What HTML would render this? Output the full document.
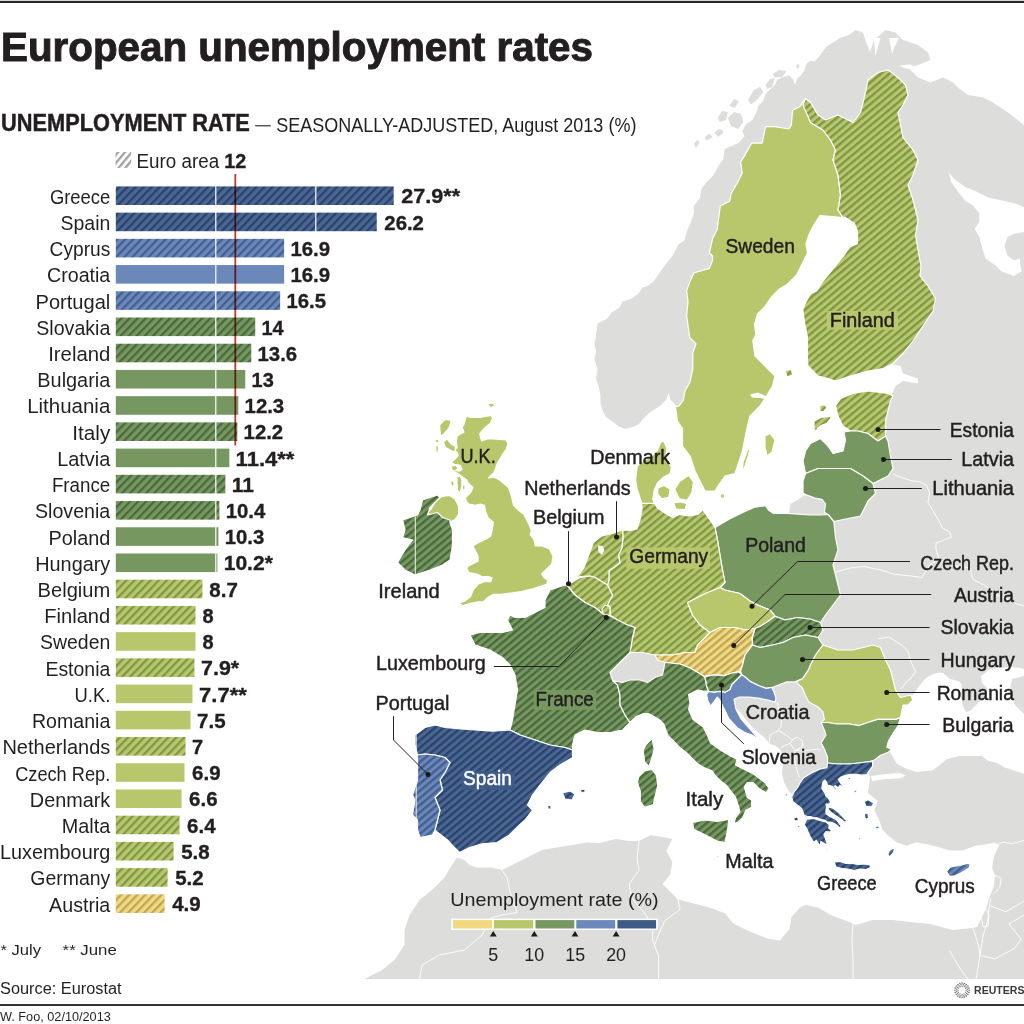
<!DOCTYPE html>
<html><head><meta charset="utf-8"><title>European unemployment rates</title>
<style>
html,body{margin:0;padding:0;background:#fff;}
svg{display:block;}
text{font-family:"Liberation Sans", Arial, sans-serif;}
</style></head>
<body>
<svg width="1024" height="1024" viewBox="0 0 1024 1024">
<defs><pattern id="bh_y" patternUnits="userSpaceOnUse" width="5.8" height="5.8" patternTransform="rotate(-46)"><rect width="5.8" height="5.8" fill="#f2d87e"/><rect width="5.8" height="2.3" fill="#bfa65a"/></pattern><pattern id="mh_y" patternUnits="userSpaceOnUse" width="5.5" height="5.5" patternTransform="rotate(-40)"><rect width="5.5" height="5.5" fill="#f2d87e"/><rect width="5.5" height="2.4" fill="#bfa65a"/></pattern><pattern id="bh_lg" patternUnits="userSpaceOnUse" width="5.8" height="5.8" patternTransform="rotate(-46)"><rect width="5.8" height="5.8" fill="#b8c76c"/><rect width="5.8" height="2.3" fill="#7f9747"/></pattern><pattern id="mh_lg" patternUnits="userSpaceOnUse" width="5.5" height="5.5" patternTransform="rotate(-40)"><rect width="5.5" height="5.5" fill="#b8c76c"/><rect width="5.5" height="2.4" fill="#7f9747"/></pattern><pattern id="bh_g" patternUnits="userSpaceOnUse" width="5.8" height="5.8" patternTransform="rotate(-46)"><rect width="5.8" height="5.8" fill="#769760"/><rect width="5.8" height="2.3" fill="#4a6a3e"/></pattern><pattern id="mh_g" patternUnits="userSpaceOnUse" width="5.5" height="5.5" patternTransform="rotate(-40)"><rect width="5.5" height="5.5" fill="#769760"/><rect width="5.5" height="2.4" fill="#4a6a3e"/></pattern><pattern id="bh_lb" patternUnits="userSpaceOnUse" width="5.8" height="5.8" patternTransform="rotate(-46)"><rect width="5.8" height="5.8" fill="#6c88ba"/><rect width="5.8" height="2.3" fill="#435f8f"/></pattern><pattern id="mh_lb" patternUnits="userSpaceOnUse" width="5.5" height="5.5" patternTransform="rotate(-40)"><rect width="5.5" height="5.5" fill="#6c88ba"/><rect width="5.5" height="2.4" fill="#435f8f"/></pattern><pattern id="bh_db" patternUnits="userSpaceOnUse" width="5.8" height="5.8" patternTransform="rotate(-46)"><rect width="5.8" height="5.8" fill="#4a6794"/><rect width="5.8" height="2.3" fill="#2b436b"/></pattern><pattern id="mh_db" patternUnits="userSpaceOnUse" width="5.5" height="5.5" patternTransform="rotate(-40)"><rect width="5.5" height="5.5" fill="#4a6794"/><rect width="5.5" height="2.4" fill="#2b436b"/></pattern><pattern id="bh_sw" patternUnits="userSpaceOnUse" width="5.2" height="5.2" patternTransform="rotate(-50)"><rect width="5.2" height="5.2" fill="#ffffff"/><rect width="5.2" height="2.3" fill="#a2a2a2"/></pattern></defs>
<rect width="1024" height="1024" fill="#ffffff"/>
<rect x="0" y="0" width="1024" height="1" fill="#d8d8d8"/>
<rect x="0" y="1" width="1024" height="2" fill="#262626"/>
<g id="map">
<polygon points="600.5,403.0 600.6,396.9 599.0,387.5 596.0,378.0 597.5,368.8 594.4,359.4 596.0,351.6 594.4,343.8 596.0,336.0 597.5,323.4 606.9,318.8 611.6,312.5 619.4,307.8 622.5,301.6 631.9,298.4 638.0,293.8 642.8,287.5 647.5,286.0 653.8,281.2 654.7,280.0 662.5,268.4 668.8,260.6 673.4,254.4 678.0,245.0 684.4,240.3 687.5,229.4 690.6,223.0 693.8,213.8 693.8,206.0 700.0,198.0 701.6,188.8 706.2,182.5 712.5,176.2 715.6,171.6 718.8,165.3 723.4,159.0 724.6,149.0 730.5,146.6 738.7,143.1 744.5,136.1 742.2,131.4 745.7,124.4 752.7,119.7 756.2,112.7 758.6,105.6 763.3,101.0 765.6,93.9 770.3,89.2 775.0,84.5 777.3,79.8 782.0,77.5 789.0,75.2 792.6,78.7 795.0,84.5 797.3,78.7 800.8,75.2 804.3,70.5 806.6,63.4 810.0,61.0 814.8,61.0 818.4,57.6 820.0,55.2 826.0,47.0 832.0,43.0 840.0,38.0 848.0,35.5 855.5,30.0 863.0,32.5 866.0,42.0 870.0,52.0 874.0,40.0 885.5,30.0 895.5,32.5 903.0,40.0 918.0,45.0 928.0,52.5 930.5,60.0 918.0,65.0 908.0,67.5 918.0,77.5 930.5,82.5 943.0,77.5 953.0,82.5 958.0,87.5 968.0,95.0 983.0,97.5 993.0,102.5 1008.0,112.5 1024.0,125.0 1024.0,979.0 364.5,979.0 382.0,970.0 394.5,960.0 404.5,945.0 404.5,930.0 409.5,915.0 419.5,900.0 432.0,890.0 444.5,877.5 452.0,865.0 457.0,857.5 464.5,860.0 469.5,865.0 477.0,867.5 492.0,867.5 502.0,870.0 512.0,865.0 527.0,857.5 542.0,850.0 557.0,847.5 572.0,845.0 587.0,842.5 600.0,843.0 615.6,839.0 629.3,841.0 639.0,841.0 650.8,835.0 662.5,837.0 672.3,839.0 666.4,850.8 672.3,862.5 670.3,874.2 662.5,884.0 670.3,891.8 678.0,899.6 693.8,903.5 709.4,907.4 725.0,913.3 732.8,923.0 748.4,930.9 768.0,938.7 779.7,940.6 789.5,929.0 791.4,917.2 800.0,907.4 805.5,905.0 818.0,907.5 830.5,915.0 850.5,922.5 855.5,925.0 873.0,920.0 893.0,920.0 910.0,922.0 930.0,924.0 942.0,927.0 952.7,930.0 967.9,928.5 977.0,927.0 981.5,917.9 986.0,908.8 989.0,898.2 993.6,887.6 995.2,875.5 992.1,867.9 993.6,857.3 998.0,847.5 999.4,845.8 994.6,842.6 986.6,844.2 975.4,845.8 962.6,850.6 949.7,850.6 940.0,847.4 927.3,844.2 916.0,842.6 906.5,845.8 896.9,842.6 888.8,836.2 882.4,829.7 879.2,820.1 874.4,810.5 877.6,800.9 868.0,792.9 869.6,781.7 870.0,777.0 868.0,772.5 870.5,765.0 860.0,768.0 840.0,771.0 815.0,777.0 800.0,788.0 794.0,796.0 789.0,791.3 784.3,783.1 782.0,773.8 783.1,762.0 780.8,750.3 776.0,746.0 770.0,744.0 765.0,738.0 752.0,727.0 740.0,712.0 728.0,700.0 714.0,694.0 706.0,689.0 700.0,684.0 690.0,682.0 672.0,680.0 662.0,683.0 645.0,687.0 628.0,690.0 618.0,692.0 608.0,672.0 606.0,640.0 600.0,620.0 590.0,598.0 592.0,580.0 600.0,560.0 615.0,545.0 630.0,537.0 645.0,520.0 646.0,505.0 645.0,490.0 650.0,470.0 660.0,450.0 688.0,436.0 684.0,412.0 680.0,406.4 678.1,408.3 674.2,403.4 670.3,399.5 668.4,392.7 666.4,399.5 660.5,405.4 654.7,409.3 648.8,413.2 643.0,419.0 639.0,424.0 633.2,426.9 625.4,428.8 619.5,426.9 611.7,421.0 605.9,417.1 602.0,409.3" fill="#dddddb" />
<polygon points="658.0,452.0 660.0,440.0 690.0,430.0 695.0,460.0 700.0,480.0 716.0,487.0 730.0,470.0 738.0,446.0 742.0,425.0 756.0,405.0 766.0,385.0 768.0,375.0 752.0,358.0 748.0,335.0 750.0,318.0 760.0,305.0 772.0,292.0 787.0,280.0 800.0,262.0 803.0,245.0 806.0,228.0 815.0,214.0 845.0,214.0 860.0,222.0 862.0,245.0 850.0,255.0 835.0,272.0 822.0,288.0 810.0,300.0 806.0,320.0 810.0,345.0 814.0,368.0 830.0,376.0 850.0,372.0 870.0,369.0 893.0,364.5 900.5,366.0 903.0,373.5 918.0,378.5 918.0,383.5 903.0,381.0 895.5,386.0 892.0,394.0 880.0,398.0 860.0,400.0 848.0,405.0 852.0,420.0 850.0,432.0 846.0,445.0 842.0,458.0 825.0,455.0 812.0,455.0 808.0,475.0 807.0,492.0 805.0,495.0 798.6,499.3 790.5,504.0 789.2,511.0 789.0,513.4 775.0,514.0 760.0,512.0 745.0,517.0 730.0,526.0 715.0,531.0 700.0,522.0 685.0,517.0 670.0,520.0 655.0,514.0 651.0,497.0 652.0,470.0" fill="#ffffff" />
<polygon points="900.0,705.0 905.0,698.0 913.0,695.0 919.0,686.0 926.0,678.0 933.0,674.0 940.0,672.5 943.0,673.0 950.0,679.0 958.0,681.0 962.0,684.0 961.0,698.0 963.0,706.0 966.0,712.0 970.0,711.0 978.0,703.0 985.0,697.0 987.0,688.0 982.0,683.0 981.0,676.0 990.0,669.0 1000.0,668.0 1010.0,667.0 1020.0,668.0 1024.0,669.0 1024.0,676.0 1012.0,679.0 1010.0,690.0 1015.0,705.0 1024.0,714.0 1024.0,773.7 1013.8,770.4 1004.2,767.2 996.2,762.4 988.2,760.8 981.8,756.0 959.4,756.0 946.5,759.2 937.0,767.2 932.0,770.4 916.0,772.0 906.5,768.8 896.9,764.0 890.4,752.8 885.0,745.0 887.0,735.0 893.0,725.0 897.0,715.0" fill="#ffffff" />
<polygon points="871.0,776.0 886.0,774.0 900.0,773.0 906.0,775.5 900.0,778.5 886.0,779.0 872.0,781.0" fill="#ffffff" />
<polygon points="948.9,172.8 956.0,180.6 965.3,186.9 976.2,191.6 988.8,197.8 1004.4,201.0 1016.9,204.0 1024.0,207.2 1024.0,232.0 1013.8,233.8 1007.5,236.9 1004.4,246.2 1007.5,255.6 1013.8,260.3 1020.0,258.8 1020.0,263.4 1021.6,271.2 1013.8,276.0 1001.2,271.2 995.0,265.0 985.6,258.8 982.5,249.4 979.4,236.9 974.7,229.0 979.4,221.2 979.4,213.4 973.1,205.6 965.3,201.0 959.0,193.0 951.2,182.2" fill="#ffffff" />
<polygon points="873.5,38.0 880.5,38.0 877.0,50.0 875.5,56.0" fill="#ffffff" />
<polygon points="889.0,38.0 899.0,38.0 894.0,48.0 892.0,54.0" fill="#ffffff" />
<polygon points="899.5,65.5 910.0,64.5 921.0,68.8 912.0,69.5 904.0,68.0" fill="#ffffff" />
<polygon points="717.6,118.0 722.0,111.0 728.0,112.0 726.0,120.0 720.0,122.0" fill="#dddddb" />
<polygon points="728.0,118.0 734.0,112.0 741.0,114.0 743.4,122.0 738.0,129.0 731.0,126.0" fill="#dddddb" />
<polygon points="714.0,133.0 719.0,129.0 723.4,131.0 718.0,136.0" fill="#dddddb" />
<polygon points="704.7,138.0 708.0,134.0 710.5,136.0 706.0,140.8" fill="#dddddb" />
<polygon points="729.3,106.0 734.0,99.0 738.7,101.0 735.0,108.0" fill="#dddddb" />
<polygon points="748.0,100.0 754.0,90.0 760.0,87.0 763.3,92.0 757.0,100.0 751.0,104.5" fill="#dddddb" />
<polygon points="765.6,85.0 770.0,79.0 775.0,78.0 772.0,87.0 767.0,89.0" fill="#dddddb" />
<polygon points="772.7,74.0 779.0,70.0 786.7,71.0 782.0,77.0 775.0,77.5" fill="#dddddb" />
<polygon points="796.0,66.0 798.0,63.4 799.6,67.0 797.0,69.3" fill="#dddddb" />
<polygon points="693.8,144.0 697.0,140.0 700.0,142.0 696.0,148.0" fill="#dddddb" />
<polygon points="706.0,137.0 710.0,134.0 712.5,137.0 708.0,140.0" fill="#dddddb" />
<polygon points="715.6,133.0 720.0,129.4 723.4,133.0 718.0,137.0" fill="#dddddb" />
<polyline points="893.0,474.0 901.5,477.5 911.0,480.6 920.0,482.0 926.5,485.3 929.6,493.0 928.0,502.5 932.8,510.3 939.0,521.2 942.0,527.5 950.0,532.2 951.5,537.0 943.7,540.0 936.0,543.0 936.0,549.4 939.0,558.8" fill="none" stroke="#ffffff" stroke-width="0.9" stroke-linejoin="round" />
<polyline points="836.0,572.0 850.0,568.0 864.0,566.5 879.6,569.7 895.0,574.4 911.0,576.0 921.8,577.5 925.0,572.8 929.6,565.0 939.0,558.8" fill="none" stroke="#ffffff" stroke-width="0.9" stroke-linejoin="round" />
<polyline points="939.0,558.8 946.0,563.0 955.0,566.0 962.0,566.5 970.0,568.0 972.8,579.4 980.0,583.0 986.9,586.4 992.5,593.4 1000.0,596.0 1006.6,599.0 1015.0,603.3 1024.0,606.0" fill="none" stroke="#ffffff" stroke-width="0.9" stroke-linejoin="round" />
<polyline points="878.0,638.8 889.0,637.0 901.5,645.0 907.8,651.0 911.0,662.0 915.6,671.5 911.0,678.0 906.0,682.5 901.5,688.8" fill="none" stroke="#ffffff" stroke-width="0.9" stroke-linejoin="round" />
<polyline points="777.3,702.3 779.0,710.0 782.0,718.7 780.8,726.9 778.4,730.4" fill="none" stroke="#ffffff" stroke-width="0.9" stroke-linejoin="round" />
<polyline points="778.4,730.4 774.0,733.0 770.2,735.0 769.0,743.3" fill="none" stroke="#ffffff" stroke-width="0.9" stroke-linejoin="round" />
<polyline points="778.4,730.4 785.5,735.0 792.5,739.8" fill="none" stroke="#ffffff" stroke-width="0.9" stroke-linejoin="round" />
<polyline points="780.8,748.0 784.3,745.6 790.2,743.3 792.5,739.8" fill="none" stroke="#ffffff" stroke-width="0.9" stroke-linejoin="round" />
<polyline points="792.5,739.8 797.0,737.0 802.0,740.0 803.0,746.0 796.0,750.3" fill="none" stroke="#ffffff" stroke-width="0.9" stroke-linejoin="round" />
<polyline points="790.2,743.3 794.8,750.3 796.0,750.3 807.7,750.3 817.1,749.1 821.0,750.0" fill="none" stroke="#ffffff" stroke-width="0.9" stroke-linejoin="round" />
<polyline points="794.8,750.3 794.8,755.0 794.8,762.0 797.2,771.4 799.5,777.3" fill="none" stroke="#ffffff" stroke-width="0.9" stroke-linejoin="round" />
<polyline points="502.0,870.0 507.0,877.5 509.5,890.0 514.5,905.0 517.0,912.5 502.0,915.0 492.0,917.5 482.0,935.0 464.5,950.0 439.5,955.0 422.0,965.0 419.5,979.0" fill="none" stroke="#ffffff" stroke-width="0.9" stroke-linejoin="round" />
<polyline points="639.0,841.0 637.0,858.6 639.0,870.3 629.3,884.0 631.2,897.7 643.0,911.3 652.7,925.0 652.7,940.6 658.6,956.2 658.6,979.0" fill="none" stroke="#ffffff" stroke-width="0.9" stroke-linejoin="round" />
<polyline points="678.0,899.6 680.0,909.4 664.5,921.0 658.6,934.8 654.7,944.5" fill="none" stroke="#ffffff" stroke-width="0.9" stroke-linejoin="round" />
<polyline points="853.0,924.0 852.0,940.0 853.0,960.0 853.0,979.0" fill="none" stroke="#ffffff" stroke-width="0.9" stroke-linejoin="round" />
<polyline points="996.7,845.2 1002.7,842.0 1011.8,843.6 1024.0,840.6" fill="none" stroke="#ffffff" stroke-width="0.9" stroke-linejoin="round" />
<polyline points="995.2,875.5 1001.2,878.5 999.7,887.6 993.6,893.6" fill="none" stroke="#ffffff" stroke-width="0.9" stroke-linejoin="round" />
<polyline points="990.6,898.2 989.0,908.8 987.6,921.0 983.0,936.0 980.0,955.8 977.0,974.0 976.0,979.0" fill="none" stroke="#ffffff" stroke-width="0.9" stroke-linejoin="round" />
<polyline points="972.4,927.0 975.5,936.0 978.5,945.0 980.0,955.8" fill="none" stroke="#ffffff" stroke-width="0.9" stroke-linejoin="round" />
<polyline points="981.5,910.0 986.0,909.0 989.0,915.0 988.0,926.0 983.0,927.0 981.5,918.0" fill="none" stroke="#ffffff" stroke-width="0.9" stroke-linejoin="round" />
<polyline points="990.6,905.8 1005.8,911.8 1024.0,901.2" fill="none" stroke="#ffffff" stroke-width="0.9" stroke-linejoin="round" />
<polyline points="1024.0,915.0 1008.8,924.0 1021.0,939.0 1014.8,948.2 995.2,958.8 981.5,955.8" fill="none" stroke="#ffffff" stroke-width="0.9" stroke-linejoin="round" />
<polyline points="949.7,951.0 955.0,960.0 961.0,970.0 967.9,979.0" fill="none" stroke="#ffffff" stroke-width="0.9" stroke-linejoin="round" />
<polygon points="805.0,99.0 810.5,122.5 823.0,130.0 830.5,140.0 835.5,150.0 833.0,160.0 838.0,175.0 840.5,195.0 838.0,210.0 843.0,217.5 832.0,216.5 820.0,215.6 813.8,225.0 809.0,234.4 806.0,243.8 807.5,253.0 802.8,262.5 796.6,275.0 787.2,284.4 779.4,289.0 771.6,296.9 765.3,306.2 757.5,314.0 754.4,325.0 756.0,334.4 752.8,340.6 755.0,356.0 765.0,366.0 775.0,376.0 772.5,386.0 765.0,398.5 760.0,406.0 750.0,416.0 747.5,426.0 744.5,440.0 742.5,451.0 737.5,466.0 735.0,473.5 725.0,476.0 718.0,486.0 715.0,491.0 705.0,491.0 700.0,481.0 695.0,471.0 690.0,456.0 682.5,446.0 682.5,428.5 677.5,421.0 675.5,406.5 678.8,406.2 683.4,400.0 685.0,390.6 689.7,382.8 692.8,368.8 692.8,353.0 696.0,343.8 689.7,337.5 686.6,315.6 688.0,301.6 686.6,290.6 690.6,280.0 693.8,273.0 709.4,268.4 712.5,260.6 712.5,256.0 709.4,252.8 712.5,238.8 717.2,229.4 718.8,216.9 720.3,206.0 729.7,201.2 731.2,193.4 737.5,182.5 742.2,173.0 740.6,162.2 745.3,154.4 751.6,143.1 762.1,143.1 765.6,126.7 775.0,126.7 789.0,129.0 791.4,124.4 792.6,110.3 799.6,106.8" fill="#b8c76c" stroke="#ffffff" stroke-width="1.2" stroke-linejoin="round"/>
<polygon points="765.0,436.0 770.0,433.5 775.0,440.0 772.0,452.0 767.0,456.0 765.0,447.0" fill="#b8c76c" stroke="#ffffff" stroke-width="1.2" stroke-linejoin="round"/>
<polygon points="748.0,449.0 750.0,450.0 745.0,466.0 742.5,472.0 743.0,462.0" fill="#b8c76c" stroke="#ffffff" stroke-width="1.2" stroke-linejoin="round"/>
<polygon points="805.5,98.8 810.5,102.5 818.0,115.0 825.5,120.0 838.0,115.0 848.0,120.0 853.0,122.5 860.5,112.5 865.5,92.5 868.0,80.0 878.0,72.5 888.0,70.0 898.0,77.5 905.5,85.0 908.0,95.0 903.0,105.0 898.0,112.5 900.5,125.0 903.0,137.5 913.0,150.0 918.0,160.0 913.0,175.0 908.0,185.0 913.0,200.0 918.0,220.0 915.5,235.0 918.0,250.0 921.0,266.0 920.0,276.0 928.0,286.0 935.5,298.5 933.0,311.0 923.0,326.0 913.0,341.0 903.0,353.5 893.0,363.5 883.0,368.5 868.0,371.0 850.5,376.0 835.5,381.0 828.0,378.5 818.0,376.0 808.0,366.0 807.5,360.0 807.5,337.5 804.4,321.9 802.8,309.4 806.0,301.6 810.6,293.8 816.9,290.6 823.0,281.2 829.4,273.4 835.6,265.6 843.4,256.2 849.7,246.9 857.5,243.8 857.5,231.2 854.4,223.4 845.0,217.2 843.0,217.5 838.0,210.0 840.5,195.0 838.0,175.0 833.0,160.0 835.5,150.0 830.5,140.0 823.0,130.0 810.5,122.5 803.0,105.0" fill="url(#mh_lg)" stroke="#ffffff" stroke-width="1.2" stroke-linejoin="round"/>
<polygon points="785.0,371.0 791.0,369.0 793.0,375.0 787.0,377.0" fill="url(#mh_lg)" stroke="#ffffff" stroke-width="1.2" stroke-linejoin="round"/>
<polygon points="893.0,396.0 888.0,393.5 868.0,391.0 853.0,393.5 840.5,398.5 835.5,406.0 838.0,416.0 843.0,426.0 850.5,431.0 858.0,431.0 868.0,433.5 878.0,441.0 885.5,436.0 885.5,421.0 888.0,411.0 890.5,401.0" fill="url(#mh_lg)" stroke="#ffffff" stroke-width="1.2" stroke-linejoin="round"/>
<polygon points="814.0,421.0 821.1,417.4 829.3,416.3 831.6,415.1 830.5,418.6 827.0,423.3 821.1,425.6 817.6,428.0 816.4,431.5 814.0,429.2" fill="url(#mh_lg)" stroke="#ffffff" stroke-width="1.2" stroke-linejoin="round"/>
<polygon points="819.9,405.7 824.6,404.5 827.0,408.0 823.4,411.6 819.9,411.6" fill="url(#mh_lg)" stroke="#ffffff" stroke-width="1.2" stroke-linejoin="round"/>
<polygon points="805.5,473.5 803.0,461.0 805.5,451.0 810.5,443.5 820.5,438.5 828.0,446.0 833.0,453.5 843.0,451.0 845.5,440.0 844.0,432.0 850.5,431.0 858.0,431.0 868.0,433.5 878.0,441.0 885.5,436.0 888.0,441.0 890.5,456.0 893.0,468.5 888.0,476.0 873.0,483.5 863.0,476.0 850.5,468.5 830.5,468.5 818.0,468.5" fill="#769760" stroke="#ffffff" stroke-width="1.2" stroke-linejoin="round"/>
<polygon points="805.5,473.5 818.0,468.5 830.5,468.5 850.5,468.5 863.0,476.0 873.0,483.5 875.5,493.5 868.0,501.0 863.0,511.0 860.5,516.0 848.0,518.5 833.8,521.5 828.0,514.5 824.4,512.2 825.5,504.0 822.0,499.3 815.0,498.1 805.6,494.6 803.0,493.0 803.0,481.0" fill="#769760" stroke="#ffffff" stroke-width="1.2" stroke-linejoin="round"/>
<polygon points="715.0,527.5 731.2,518.1 743.8,511.9 754.7,507.2 765.6,505.6 768.8,510.3 773.4,513.4 781.2,513.4 787.5,513.4 809.4,515.0 820.0,515.0 828.0,514.5 833.8,521.5 835.5,537.5 838.0,550.0 833.0,565.0 835.5,575.0 840.5,595.0 833.0,605.0 825.5,615.0 820.5,622.5 810.0,619.0 797.5,617.5 785.0,620.0 775.0,616.2 770.0,610.0 757.5,605.0 750.0,601.0 740.0,593.5 725.0,590.0 720.0,587.5 725.0,582.5 722.5,570.0 720.0,555.0 717.5,540.0" fill="#769760" stroke="#ffffff" stroke-width="1.2" stroke-linejoin="round"/>
<polygon points="622.5,530.0 630.0,530.5 637.0,529.0 640.0,520.0 642.0,510.0 641.9,503.4 654.4,503.4 657.5,508.0 667.0,514.4 673.0,517.5 679.4,514.4 688.8,516.0 698.0,514.4 702.8,509.7 706.0,514.4 710.6,520.6 715.0,527.5 717.5,540.0 720.0,555.0 722.5,570.0 725.0,582.5 720.0,587.5 707.5,592.5 687.5,602.5 692.5,615.0 700.0,625.0 710.0,632.5 702.5,640.0 697.5,645.0 695.0,652.5 685.0,652.5 672.5,655.0 660.0,655.0 655.0,655.0 642.5,652.5 630.0,652.5 632.5,637.5 635.0,627.5 627.5,625.0 617.5,620.0 610.0,615.0 610.0,607.0 607.5,605.0 612.5,595.0 607.5,585.0 609.0,580.0 609.0,570.6 613.8,567.5 620.0,562.8 618.4,555.0 621.6,548.8 623.0,537.8" fill="url(#mh_lg)" stroke="#ffffff" stroke-width="1.2" stroke-linejoin="round"/>
<polygon points="663.8,441.0 667.0,448.8 665.3,458.0 671.5,467.5 670.0,473.8 663.8,477.0 657.5,483.0 654.4,489.4 652.8,498.8 654.4,503.4 641.9,503.4 640.3,498.8 637.2,489.4 635.6,480.0 637.2,466.0 643.4,461.0 651.2,456.6 657.5,450.3 660.6,442.5" fill="#b8c76c" stroke="#ffffff" stroke-width="1.2" stroke-linejoin="round"/>
<polygon points="658.0,488.0 664.0,485.5 670.0,489.0 669.0,497.0 662.0,498.8 657.5,494.0" fill="#b8c76c" stroke="#ffffff" stroke-width="1.2" stroke-linejoin="round"/>
<polygon points="679.4,481.6 688.8,475.3 693.4,481.6 691.9,492.5 687.2,500.3 679.4,498.8 674.7,489.4" fill="#b8c76c" stroke="#ffffff" stroke-width="1.2" stroke-linejoin="round"/>
<polygon points="673.5,503.0 680.0,502.0 687.0,503.5 685.0,509.5 676.0,509.0" fill="#b8c76c" stroke="#ffffff" stroke-width="1.2" stroke-linejoin="round"/>
<polygon points="720.5,494.0 724.5,494.0 724.5,498.0 720.5,498.0" fill="#b8c76c" stroke="#ffffff" stroke-width="1.2" stroke-linejoin="round"/>
<polygon points="574.7,580.0 579.4,573.8 584.0,567.5 588.8,555.0 593.4,542.5 601.2,536.2 613.8,533.0 622.5,530.0 623.0,537.8 621.6,548.8 618.4,555.0 620.0,562.8 613.8,567.5 609.0,570.6 609.0,580.0 607.5,585.0 595.0,577.5 590.0,576.0 580.0,576.5" fill="url(#mh_lg)" stroke="#ffffff" stroke-width="1.2" stroke-linejoin="round"/>
<polygon points="567.5,585.0 580.0,577.5 590.0,576.0 595.0,577.5 607.5,585.0 612.5,595.0 607.5,605.0 603.0,614.0 595.0,607.5 585.0,602.5 575.0,595.0" fill="url(#mh_lg)" stroke="#ffffff" stroke-width="1.2" stroke-linejoin="round"/>
<polygon points="605.0,605.0 610.0,607.0 610.0,615.0 607.5,618.0 603.0,614.0 602.0,609.0" fill="url(#mh_lg)" stroke="#ffffff" stroke-width="1.2" stroke-linejoin="round"/>
<polygon points="565.0,585.0 557.5,587.5 550.0,590.0 545.0,600.0 545.0,607.5 535.0,612.5 525.0,617.5 515.0,617.5 510.0,615.0 507.5,620.0 512.5,630.0 502.5,632.5 490.0,632.5 480.0,632.5 470.0,635.0 475.0,645.0 490.0,650.0 502.5,657.5 510.0,665.0 515.0,675.0 517.5,690.0 515.0,705.0 512.5,720.0 510.0,730.0 520.0,735.0 535.0,740.0 550.0,745.0 565.0,747.5 572.5,750.0 572.5,745.0 575.0,735.0 585.0,730.0 597.5,732.5 610.0,732.5 622.5,730.0 630.0,722.5 625.0,715.0 620.0,705.0 620.0,695.0 617.5,685.0 612.5,680.0 610.0,672.5 617.5,665.0 625.0,657.5 630.0,652.5 632.5,637.5 635.0,627.5 627.5,625.0 617.5,620.0 610.0,616.0 603.0,614.0 595.0,607.5 585.0,602.5 575.0,595.0 567.5,586.0" fill="url(#mh_g)" stroke="#ffffff" stroke-width="1.2" stroke-linejoin="round"/>
<polygon points="652.0,738.6 654.2,748.8 652.0,757.6 649.0,766.4 644.6,762.0 643.2,750.3 646.1,744.5" fill="url(#mh_g)" stroke="#ffffff" stroke-width="1.2" stroke-linejoin="round"/>
<polygon points="687.5,602.5 707.5,592.5 720.0,587.5 725.0,590.0 740.0,593.5 750.0,601.0 757.5,605.0 770.0,610.0 775.0,616.2 768.0,621.5 760.0,626.5 755.0,628.5 745.0,630.0 735.0,627.5 720.0,627.5 710.0,632.5 700.0,625.0 692.5,615.0" fill="#b8c76c" stroke="#ffffff" stroke-width="1.2" stroke-linejoin="round"/>
<polygon points="755.0,628.5 760.0,626.5 768.0,621.5 775.0,616.2 785.0,620.0 797.5,617.5 810.0,619.0 820.5,622.5 823.0,630.0 818.0,637.5 805.5,635.0 793.0,637.5 783.0,642.5 772.5,645.0 760.0,647.5 752.5,645.0 752.0,638.0" fill="url(#mh_g)" stroke="#ffffff" stroke-width="1.2" stroke-linejoin="round"/>
<polygon points="710.0,632.5 720.0,627.5 735.0,627.5 745.0,630.0 755.0,628.5 752.0,638.0 752.5,645.0 745.0,655.0 742.5,665.0 740.5,671.0 738.8,671.8 733.0,672.8 724.2,675.7 714.4,674.8 704.6,676.7 697.0,672.0 690.0,668.0 680.0,664.0 665.0,662.5 657.5,660.0 655.0,655.0 660.0,655.0 672.5,655.0 685.0,652.5 695.0,652.5 697.5,645.0 702.5,640.0" fill="url(#mh_y)" stroke="#ffffff" stroke-width="1.2" stroke-linejoin="round"/>
<polygon points="745.0,655.0 752.5,645.0 760.0,647.5 772.5,645.0 783.0,642.5 793.0,637.5 805.5,635.0 818.0,637.5 823.0,645.0 815.5,655.0 810.5,665.0 808.8,669.4 802.5,678.8 794.7,681.9 786.9,681.9 772.0,687.5 766.2,688.4 758.4,685.5 750.5,681.6 744.7,676.7 741.8,674.8 740.5,671.0 742.5,665.0" fill="#769760" stroke="#ffffff" stroke-width="1.2" stroke-linejoin="round"/>
<polygon points="704.6,676.7 714.4,674.8 724.2,675.7 733.0,672.8 738.8,671.8 741.8,674.8 736.9,679.6 732.0,684.5 730.0,689.4 725.2,692.3 719.3,691.4 714.4,692.3 708.6,691.4 706.6,686.5 705.6,680.6" fill="url(#mh_g)" stroke="#ffffff" stroke-width="1.2" stroke-linejoin="round"/>
<polygon points="708.6,691.4 714.4,692.3 719.3,691.4 725.2,692.3 730.0,689.4 732.0,684.5 736.9,679.6 741.8,674.8 744.7,676.7 750.5,681.6 758.4,685.5 766.2,688.4 772.0,687.5 774.0,692.3 776.0,698.2 775.0,702.1 768.1,700.2 758.4,698.2 748.6,697.2 738.8,697.2 734.0,699.2 735.9,709.0 740.8,718.7 748.6,727.5 757.4,737.3 760.0,740.5 758.4,739.2 752.5,735.3 744.7,732.4 736.9,727.5 729.0,718.7 724.2,709.0 719.3,699.2 717.3,697.2 714.4,701.1 710.5,706.0 707.6,700.2 706.6,694.3" fill="#6c88ba" stroke="#ffffff" stroke-width="1.2" stroke-linejoin="round"/>
<polygon points="823.0,645.0 838.0,650.0 853.0,650.0 863.0,647.5 873.0,645.0 880.5,647.5 885.5,660.0 890.5,670.0 893.0,680.0 895.5,690.0 900.5,697.5 910.5,695.0 913.0,700.0 908.0,705.0 903.0,705.0 900.5,717.5 896.2,719.4 886.9,719.4 877.5,719.4 868.0,722.5 858.8,725.6 849.4,724.0 836.9,724.0 827.5,722.5 821.2,722.5 824.4,719.4 822.8,711.6 818.0,707.0 808.8,702.0 805.6,696.0 802.5,688.0 796.0,681.9 802.5,678.8 808.8,669.4 810.5,665.0 815.5,655.0" fill="#b8c76c" stroke="#ffffff" stroke-width="1.2" stroke-linejoin="round"/>
<polygon points="821.2,722.5 827.5,722.5 836.9,724.0 849.4,724.0 858.8,725.6 868.0,722.5 877.5,719.4 886.9,719.4 896.2,719.4 900.5,717.5 898.0,726.0 893.0,733.4 888.4,741.2 886.9,747.5 891.6,749.0 888.4,752.2 880.6,755.3 874.4,760.0 869.7,761.6 858.8,763.0 849.4,764.0 836.9,764.0 827.5,763.0 827.5,756.9 824.4,749.0 821.2,742.8 826.0,735.0 824.4,730.3" fill="#769760" stroke="#ffffff" stroke-width="1.2" stroke-linejoin="round"/>
<polygon points="869.0,761.7 872.6,761.7 872.6,766.4 869.0,771.1 866.7,774.6 862.0,775.2 856.2,774.4 850.3,774.3 845.6,775.4 841.0,777.0 838.3,779.5 841.0,783.7 843.7,785.7 842.4,786.4 839.6,785.7 838.3,787.8 836.9,787.1 835.5,785.7 834.2,786.4 837.6,789.8 835.5,789.8 832.1,786.4 830.0,785.7 827.3,785.0 826.5,782.0 825.0,780.0 823.2,781.5 822.5,783.7 821.9,788.5 824.6,792.6 826.0,796.0 828.7,798.7 830.8,802.1 828.7,804.2 826.0,804.2 826.7,806.9 826.0,809.6 826.0,813.7 830.0,816.5 835.5,819.2 838.3,822.0 841.0,826.0 840.3,828.1 837.6,826.0 834.2,823.3 830.0,822.0 827.3,822.0 825.3,820.6 820.5,819.2 817.1,817.8 813.7,817.8 810.3,816.5 806.8,816.5 804.1,815.1 802.7,811.0 801.4,808.3 798.8,806.2 792.9,801.6 791.7,796.9 794.0,792.2 797.6,787.5 800.0,782.8 803.4,778.1 807.0,775.8 810.5,773.4 815.2,771.1 821.0,768.8 826.9,767.6 827.5,763.0 836.9,764.0 849.4,764.0 858.8,763.0 866.7,762.0" fill="url(#mh_db)" stroke="#ffffff" stroke-width="1.2" stroke-linejoin="round"/>
<polygon points="806.8,819.2 813.7,818.5 820.5,820.6 826.0,822.0 829.4,824.7 828.7,828.1 832.1,830.8 829.4,832.2 826.0,831.5 823.9,834.3 826.0,840.0 827.5,844.5 824.5,843.8 821.0,841.4 819.8,846.1 816.3,840.2 814.0,842.6 811.6,839.0 809.6,835.6 806.8,828.8 804.1,824.7" fill="url(#mh_db)" stroke="#ffffff" stroke-width="1.2" stroke-linejoin="round"/>
<polygon points="834.0,862.0 840.0,861.5 846.0,863.5 852.0,863.5 858.0,864.5 864.0,864.0 870.0,865.0 870.5,867.5 866.0,869.5 860.0,869.0 854.0,870.5 848.0,869.0 842.0,868.5 836.0,867.0" fill="url(#mh_db)" stroke="#ffffff" stroke-width="1.2" stroke-linejoin="round"/>
<polygon points="829.4,806.9 832.8,808.3 836.9,811.0 839.6,813.7 843.7,817.8 846.5,820.6 845.1,822.6 841.0,819.2 836.9,816.5 832.8,813.7 829.4,811.0 827.5,809.0" fill="url(#mh_db)" stroke="#ffffff" stroke-width="1.2" stroke-linejoin="round"/>
<polygon points="864.0,801.5 868.0,799.8 873.8,803.0 871.5,806.8 866.0,806.3" fill="url(#mh_db)" stroke="#ffffff" stroke-width="1.2" stroke-linejoin="round"/>
<polygon points="864.8,813.5 868.0,812.8 868.4,818.0 865.5,819.5 864.3,816.0" fill="url(#mh_db)" stroke="#ffffff" stroke-width="1.2" stroke-linejoin="round"/>
<polygon points="875.5,826.5 879.4,825.8 879.0,828.5 875.8,828.8" fill="url(#mh_db)" stroke="#ffffff" stroke-width="1.2" stroke-linejoin="round"/>
<polygon points="889.5,850.5 894.8,847.3 893.5,852.5 889.5,857.0 887.8,854.0" fill="url(#mh_db)" stroke="#ffffff" stroke-width="1.2" stroke-linejoin="round"/>
<polygon points="784.7,794.5 786.5,793.4 788.2,795.7 785.5,796.0" fill="url(#mh_db)" stroke="#ffffff" stroke-width="1.2" stroke-linejoin="round"/>
<polygon points="793.0,818.5 797.0,816.8 798.8,819.5 795.5,821.5" fill="url(#mh_db)" stroke="#ffffff" stroke-width="1.2" stroke-linejoin="round"/>
<polygon points="797.6,826.0 799.5,825.0 800.0,827.3 798.0,827.5" fill="url(#mh_db)" stroke="#ffffff" stroke-width="1.2" stroke-linejoin="round"/>
<polygon points="848.0,778.0 850.3,777.0 850.3,779.3 848.2,779.5" fill="url(#mh_db)" stroke="#ffffff" stroke-width="1.2" stroke-linejoin="round"/>
<polygon points="853.8,790.5 857.3,789.8 856.5,792.2 854.0,792.0" fill="url(#mh_db)" stroke="#ffffff" stroke-width="1.2" stroke-linejoin="round"/>
<polygon points="858.5,837.5 860.9,836.7 860.5,839.0 858.8,839.2" fill="url(#mh_db)" stroke="#ffffff" stroke-width="1.2" stroke-linejoin="round"/>
<polygon points="826.0,849.0 827.8,848.8 827.5,850.8 826.2,850.6" fill="url(#mh_db)" stroke="#ffffff" stroke-width="1.2" stroke-linejoin="round"/>
<polygon points="946.5,871.5 950.0,867.2 956.0,866.0 962.0,865.0 966.0,863.6 970.5,863.5 969.0,868.0 965.0,870.5 960.0,873.5 955.0,875.8 949.5,876.3" fill="url(#mh_lb)" stroke="#ffffff" stroke-width="1.2" stroke-linejoin="round"/>
<polygon points="630.0,722.5 625.0,715.0 620.0,705.0 620.0,695.0 617.5,685.0 613.0,681.0 622.5,682.5 630.0,680.0 640.0,680.0 647.5,682.5 655.0,677.5 662.5,675.0 665.0,662.5 680.0,664.0 690.0,668.0 697.0,672.0 704.6,676.7 705.6,680.6 706.6,686.5 708.6,691.4 703.0,691.0 697.5,690.0 688.6,694.6 690.0,703.4 688.6,709.3 693.0,719.5 703.2,726.9 707.6,735.7 710.6,743.0 720.8,750.3 731.0,756.2 737.0,759.1 735.5,765.0 744.3,769.4 753.0,773.8 758.9,778.1 764.8,782.5 769.2,788.4 766.2,792.8 758.9,788.4 753.0,782.5 747.2,782.5 744.3,786.9 747.2,797.2 751.6,800.1 751.6,807.4 745.7,810.4 742.8,817.7 738.4,822.1 734.0,823.5 735.5,817.7 739.9,811.8 738.4,806.0 735.5,797.2 731.0,791.3 726.7,785.5 720.8,781.1 715.0,775.2 712.0,770.8 704.7,767.9 697.4,763.5 693.0,759.1 687.1,753.2 679.8,747.4 674.0,741.5 668.1,735.7 663.7,723.9 659.3,719.5 649.0,713.7 643.2,713.7 635.9,716.6" fill="url(#mh_g)" stroke="#ffffff" stroke-width="1.2" stroke-linejoin="round"/>
<polygon points="692.5,822.5 705.0,820.0 717.2,821.5 728.9,819.5 727.5,830.0 725.0,842.5 717.2,841.0 705.5,835.0 693.8,829.3" fill="url(#mh_g)" stroke="#ffffff" stroke-width="1.2" stroke-linejoin="round"/>
<polygon points="638.8,776.7 644.6,770.8 652.0,769.4 656.4,775.2 657.8,785.5 654.9,797.2 653.4,804.5 644.6,807.4 640.3,801.6 640.3,791.3 637.3,782.5" fill="url(#mh_g)" stroke="#ffffff" stroke-width="1.2" stroke-linejoin="round"/>
<polygon points="716.3,855.8 718.2,855.8 718.2,857.5 716.3,857.5" fill="url(#mh_lg)" stroke="#ffffff" stroke-width="1.2" stroke-linejoin="round"/>
<polygon points="466.0,416.5 471.9,417.5 479.7,417.5 485.5,416.5 491.4,415.5 492.4,418.4 490.4,423.3 485.5,427.2 481.6,431.1 479.7,434.0 480.7,438.0 481.6,440.9 487.5,439.0 493.4,439.0 499.2,439.4 506.0,440.0 508.0,443.8 506.0,449.7 503.1,453.6 500.2,458.5 497.3,463.4 495.3,469.2 493.4,473.1 490.4,476.0 488.5,478.0 493.4,477.0 499.7,480.0 508.6,487.6 511.1,495.2 513.6,505.4 518.7,510.5 523.8,514.3 526.4,519.4 528.9,524.4 531.4,530.8 530.2,534.6 534.0,539.7 535.2,546.0 541.6,546.0 549.2,548.6 553.0,556.2 551.8,563.8 545.4,570.2 541.6,574.0 544.1,577.8 548.0,580.3 546.7,584.1 539.0,586.7 531.4,589.2 521.3,591.7 511.1,593.0 501.0,594.3 493.3,594.3 487.0,598.1 483.2,601.9 478.1,601.9 471.8,603.2 462.9,605.7 459.0,603.2 465.4,600.6 470.5,596.8 473.0,590.5 478.1,584.1 484.4,581.6 490.8,581.6 492.1,577.8 488.2,576.5 481.9,576.5 476.8,574.0 469.2,572.7 466.7,568.9 467.9,566.3 473.0,563.8 478.1,561.3 478.1,556.2 475.6,551.1 473.0,546.0 476.8,543.5 481.9,541.0 487.0,538.4 490.8,535.9 492.1,530.8 493.3,521.9 488.2,518.1 485.7,511.7 484.4,505.4 480.6,504.1 475.6,505.4 469.2,504.1 466.7,501.6 465.4,497.8 470.5,492.7 473.0,487.6 467.9,482.5 466.7,480.0 461.1,476.0 457.2,473.1 451.4,471.2 454.3,470.2 459.2,471.2 462.1,469.2 460.2,465.3 454.3,464.3 451.4,462.4 454.3,459.5 458.2,455.5 457.2,452.6 454.3,449.7 457.2,447.7 456.2,441.9 457.2,436.0 464.0,432.1 462.1,427.2 464.0,424.3" fill="#b8c76c" stroke="#ffffff" stroke-width="1.2" stroke-linejoin="round"/>
<polygon points="439.6,425.0 445.0,419.4 451.4,420.5 449.0,428.0 444.0,434.0 440.5,436.0" fill="#b8c76c" stroke="#ffffff" stroke-width="1.2" stroke-linejoin="round"/>
<polygon points="443.5,442.0 447.0,439.0 451.0,444.0 455.5,446.5 455.0,452.0 450.0,450.0 445.0,447.0" fill="#b8c76c" stroke="#ffffff" stroke-width="1.2" stroke-linejoin="round"/>
<polygon points="487.5,404.0 492.0,402.8 495.3,405.5 490.5,407.7" fill="#b8c76c" stroke="#ffffff" stroke-width="1.2" stroke-linejoin="round"/>
<polygon points="434.8,440.0 438.0,439.0 439.6,442.0 436.0,442.5" fill="#b8c76c" stroke="#ffffff" stroke-width="1.2" stroke-linejoin="round"/>
<polygon points="435.7,446.0 438.7,446.0 438.0,452.6 436.0,452.0" fill="#b8c76c" stroke="#ffffff" stroke-width="1.2" stroke-linejoin="round"/>
<polygon points="451.4,466.0 456.0,465.3 458.2,468.0 455.0,471.2 452.0,470.0" fill="#b8c76c" stroke="#ffffff" stroke-width="1.2" stroke-linejoin="round"/>
<polygon points="450.4,482.0 453.0,480.0 454.3,484.0 452.0,487.8" fill="#b8c76c" stroke="#ffffff" stroke-width="1.2" stroke-linejoin="round"/>
<polygon points="457.0,477.0 460.0,476.0 462.0,480.0 461.5,488.0 459.5,493.6 457.5,490.0 457.0,483.0" fill="#b8c76c" stroke="#ffffff" stroke-width="1.2" stroke-linejoin="round"/>
<polygon points="462.5,485.0 465.0,485.5 465.0,490.0 462.5,489.5" fill="#b8c76c" stroke="#ffffff" stroke-width="1.2" stroke-linejoin="round"/>
<polygon points="427.1,513.1 431.0,509.0 436.4,500.0 442.0,496.4 449.4,495.4 455.0,499.1 458.7,506.6 458.7,514.0 455.0,519.6 449.4,522.4 447.6,520.5 443.9,518.6 440.1,517.7 437.4,515.9 434.6,515.9 430.9,514.9" fill="#b8c76c" stroke="#ffffff" stroke-width="1.2" stroke-linejoin="round"/>
<polygon points="420.0,510.0 422.5,500.0 437.5,495.0 440.0,497.5 430.0,507.5 427.5,515.0 437.5,512.5 442.5,517.5 450.0,520.0 450.0,522.5 452.5,530.0 452.5,545.0 450.0,560.0 442.5,565.0 430.0,570.0 415.0,575.0 405.0,570.0 397.5,562.5 405.0,550.0 412.5,540.0 402.5,537.5 405.0,530.0 402.5,520.0 410.0,517.5 417.5,515.0" fill="url(#mh_g)" stroke="#ffffff" stroke-width="1.2" stroke-linejoin="round"/>
<polygon points="415.0,735.0 425.0,727.5 435.0,725.0 445.0,727.5 460.0,728.8 475.0,730.0 492.5,731.2 510.0,730.0 520.0,735.0 535.0,740.0 550.0,745.0 565.0,747.5 572.5,750.0 572.5,757.5 560.0,765.0 550.0,772.5 540.0,785.0 532.5,795.0 527.5,805.0 532.5,810.0 525.0,820.0 519.5,825.0 509.5,835.0 497.0,842.5 482.0,843.8 469.5,847.5 459.5,852.5 452.0,845.0 447.5,840.0 434.5,830.0 435.0,830.0 437.5,820.0 440.0,810.0 435.0,797.5 442.5,790.0 440.0,780.0 445.0,772.5 450.0,762.5 445.0,757.5 435.0,755.0 425.0,755.0 417.5,755.0 415.0,745.0" fill="url(#mh_db)" stroke="#ffffff" stroke-width="1.2" stroke-linejoin="round"/>
<polygon points="562.5,793.0 570.0,791.0 575.0,794.0 572.0,800.0 565.0,799.0" fill="url(#mh_db)" stroke="#ffffff" stroke-width="1.2" stroke-linejoin="round"/>
<polygon points="580.0,790.0 585.0,789.0 585.0,792.5 581.0,792.0" fill="url(#mh_db)" stroke="#ffffff" stroke-width="1.2" stroke-linejoin="round"/>
<polygon points="547.5,806.0 551.0,805.0 551.0,809.0 548.0,809.0" fill="url(#mh_db)" stroke="#ffffff" stroke-width="1.2" stroke-linejoin="round"/>
<polygon points="417.5,755.0 425.0,753.8 435.0,755.0 445.0,757.5 450.0,762.5 445.0,772.5 440.0,780.0 442.5,790.0 435.0,797.5 440.0,810.0 437.5,820.0 435.0,830.0 432.5,835.0 420.0,837.5 417.5,830.0 417.5,820.0 412.5,815.0 415.0,800.0 412.5,795.0 417.5,780.0 417.5,765.0" fill="url(#mh_lb)" stroke="#ffffff" stroke-width="1.2" stroke-linejoin="round"/>
<polygon points="598.0,545.5 602.5,546.0 604.5,550.0 602.0,555.0 598.5,552.0" fill="#ffffff" />
<polygon points="750.0,394.5 758.0,392.5 766.0,396.0 767.5,399.5 760.0,398.0 752.0,397.5" fill="#ffffff" />
<rect x="826.75" y="311" width="71.25" height="18.75" fill="#b8c76c"/>
<rect x="626.25" y="547.5" width="83.75" height="21.25" fill="#b8c76c"/>
<rect x="533.75" y="690" width="62.5" height="20" fill="#769760"/>
<rect x="461.25" y="771.25" width="53.75" height="18.75" fill="#3e5b87"/>
<line x1="415.3" y1="516.5" x2="415.3" y2="575.5" stroke="#fff" stroke-width="0.9"/>
<line x1="416.2" y1="735" x2="416.2" y2="838" stroke="#fff" stroke-width="0.9"/>
<polyline points="878.0,429.5 940.5,429.5" fill="none" stroke="#231f20" stroke-width="1.0" stroke-linejoin="round" />
<polyline points="883.5,459.5 951.8,459.5" fill="none" stroke="#231f20" stroke-width="1.0" stroke-linejoin="round" />
<polyline points="865.5,488.5 921.8,488.5" fill="none" stroke="#231f20" stroke-width="1.0" stroke-linejoin="round" />
<polyline points="752.0,606.2 797.5,561.5 910.0,561.5" fill="none" stroke="#231f20" stroke-width="1.0" stroke-linejoin="round" />
<polyline points="733.8,645.5 785.0,594.5 931.2,594.5" fill="none" stroke="#231f20" stroke-width="1.0" stroke-linejoin="round" />
<polyline points="810.0,627.5 929.6,627.5" fill="none" stroke="#231f20" stroke-width="1.0" stroke-linejoin="round" />
<polyline points="802.5,659.5 929.6,659.5" fill="none" stroke="#231f20" stroke-width="1.0" stroke-linejoin="round" />
<polyline points="886.7,692.5 929.6,692.5" fill="none" stroke="#231f20" stroke-width="1.0" stroke-linejoin="round" />
<polyline points="886.7,724.5 929.6,724.5" fill="none" stroke="#231f20" stroke-width="1.0" stroke-linejoin="round" />
<polyline points="568.5,531.2 568.5,583.8" fill="none" stroke="#231f20" stroke-width="1.0" stroke-linejoin="round" />
<polyline points="616.5,501.2 616.5,537.0" fill="none" stroke="#231f20" stroke-width="1.0" stroke-linejoin="round" />
<polyline points="493.8,666.5 558.8,666.5 606.2,617.5" fill="none" stroke="#231f20" stroke-width="1.0" stroke-linejoin="round" />
<polyline points="393.5,716.2 393.5,740.0 428.0,774.5" fill="none" stroke="#231f20" stroke-width="1.0" stroke-linejoin="round" />
<polyline points="721.5,685.0 721.5,722.5 743.8,743.8" fill="none" stroke="#231f20" stroke-width="1.0" stroke-linejoin="round" />
<circle cx="878" cy="429.5" r="2.5" fill="#1a1a1a"/>
<circle cx="883.5" cy="459.5" r="2.5" fill="#1a1a1a"/>
<circle cx="865.5" cy="488.5" r="2.5" fill="#1a1a1a"/>
<circle cx="752" cy="606.25" r="2.5" fill="#1a1a1a"/>
<circle cx="733.75" cy="645.5" r="2.5" fill="#1a1a1a"/>
<circle cx="810" cy="627.5" r="2.5" fill="#1a1a1a"/>
<circle cx="802.5" cy="659.5" r="2.5" fill="#1a1a1a"/>
<circle cx="886.7" cy="692.5" r="2.5" fill="#1a1a1a"/>
<circle cx="886.7" cy="724.5" r="2.5" fill="#1a1a1a"/>
<circle cx="568.5" cy="583.75" r="2.5" fill="#1a1a1a"/>
<circle cx="616.5" cy="537" r="2.5" fill="#1a1a1a"/>
<circle cx="606.25" cy="617.5" r="2.5" fill="#1a1a1a"/>
<circle cx="428" cy="774.5" r="2.5" fill="#1a1a1a"/>
<circle cx="721.5" cy="685" r="2.5" fill="#1a1a1a"/>
<rect x="451.2" y="918.6" width="206.7" height="11.3" fill="#ffffff"/>
<rect x="453.0" y="920.1" width="39.1" height="8.4" fill="#f2d87e"/>
<rect x="493.9" y="920.1" width="39.3" height="8.4" fill="#b8c76c"/>
<rect x="535.5" y="920.1" width="38.8" height="8.4" fill="#769760"/>
<rect x="576.3" y="920.1" width="38.9" height="8.4" fill="#6c88ba"/>
<rect x="617.4" y="920.1" width="38.7" height="8.4" fill="#3e5b87"/>
<polygon points="489.9,936.6 496.7,936.6 493.3,931.0" fill="#1a1a1a"/>
<polygon points="530.9,936.6 537.7,936.6 534.3,931.0" fill="#1a1a1a"/>
<polygon points="571.6,936.6 578.4,936.6 575.0,931.0" fill="#1a1a1a"/>
<polygon points="612.7,936.6 619.5,936.6 616.1,931.0" fill="#1a1a1a"/>
</g>
<g id="bars">
<rect x="115.8" y="186.40" width="277.88" height="18.6" fill="url(#bh_db)"/>
<rect x="115.8" y="212.62" width="260.95" height="18.6" fill="url(#bh_db)"/>
<rect x="115.8" y="238.84" width="168.32" height="18.6" fill="url(#bh_lb)"/>
<rect x="115.8" y="265.06" width="168.32" height="18.6" fill="#6c88ba"/>
<rect x="115.8" y="291.28" width="164.34" height="18.6" fill="url(#bh_lb)"/>
<rect x="115.8" y="317.50" width="139.44" height="18.6" fill="url(#bh_g)"/>
<rect x="115.8" y="343.72" width="135.46" height="18.6" fill="url(#bh_g)"/>
<rect x="115.8" y="369.94" width="129.48" height="18.6" fill="#769760"/>
<rect x="115.8" y="396.16" width="122.51" height="18.6" fill="#769760"/>
<rect x="115.8" y="422.38" width="121.51" height="18.6" fill="url(#bh_g)"/>
<rect x="115.8" y="448.60" width="113.54" height="18.6" fill="#769760"/>
<rect x="115.8" y="474.82" width="109.56" height="18.6" fill="url(#bh_g)"/>
<rect x="115.8" y="501.04" width="103.58" height="18.6" fill="url(#bh_g)"/>
<rect x="115.8" y="527.26" width="102.59" height="18.6" fill="#769760"/>
<rect x="115.8" y="553.48" width="101.59" height="18.6" fill="#769760"/>
<rect x="115.8" y="579.70" width="86.65" height="18.6" fill="url(#bh_lg)"/>
<rect x="115.8" y="605.92" width="79.68" height="18.6" fill="url(#bh_lg)"/>
<rect x="115.8" y="632.14" width="79.68" height="18.6" fill="#b8c76c"/>
<rect x="115.8" y="658.36" width="78.68" height="18.6" fill="url(#bh_lg)"/>
<rect x="115.8" y="684.58" width="76.69" height="18.6" fill="#b8c76c"/>
<rect x="115.8" y="710.80" width="74.70" height="18.6" fill="#b8c76c"/>
<rect x="115.8" y="737.02" width="69.72" height="18.6" fill="url(#bh_lg)"/>
<rect x="115.8" y="763.24" width="68.72" height="18.6" fill="#b8c76c"/>
<rect x="115.8" y="789.46" width="65.74" height="18.6" fill="#b8c76c"/>
<rect x="115.8" y="815.68" width="63.74" height="18.6" fill="url(#bh_lg)"/>
<rect x="115.8" y="841.90" width="57.77" height="18.6" fill="url(#bh_lg)"/>
<rect x="115.8" y="868.12" width="51.79" height="18.6" fill="url(#bh_lg)"/>
<rect x="115.8" y="894.34" width="48.80" height="18.6" fill="url(#bh_y)"/>
<line x1="215.8" y1="184" x2="215.8" y2="913.9" stroke="#ffffff" stroke-width="1.2"/>
<line x1="315.8" y1="184" x2="315.8" y2="913.9" stroke="#ffffff" stroke-width="1.2"/>
<line x1="235.3" y1="174" x2="235.3" y2="445.5" stroke="#c0392f" stroke-width="1.8" style="mix-blend-mode:multiply"/>
<rect x="115.5" y="152" width="15.7" height="16" fill="url(#bh_sw)"/>
</g>
<rect x="0" y="1004" width="1024" height="2" fill="#333333"/>
<rect x="255.2" y="125.1" width="15.6" height="1.3" fill="#444"/>
<circle cx="969.30" cy="990.30" r="0.8" fill="#707070"/><circle cx="968.95" cy="992.52" r="0.8" fill="#707070"/><circle cx="967.92" cy="994.53" r="0.8" fill="#707070"/><circle cx="966.33" cy="996.12" r="0.8" fill="#707070"/><circle cx="964.32" cy="997.15" r="0.8" fill="#707070"/><circle cx="962.10" cy="997.50" r="0.8" fill="#707070"/><circle cx="959.88" cy="997.15" r="0.8" fill="#707070"/><circle cx="957.87" cy="996.12" r="0.8" fill="#707070"/><circle cx="956.28" cy="994.53" r="0.8" fill="#707070"/><circle cx="955.25" cy="992.52" r="0.8" fill="#707070"/><circle cx="954.90" cy="990.30" r="0.8" fill="#707070"/><circle cx="955.25" cy="988.08" r="0.8" fill="#707070"/><circle cx="956.28" cy="986.07" r="0.8" fill="#707070"/><circle cx="957.87" cy="984.48" r="0.8" fill="#707070"/><circle cx="959.88" cy="983.45" r="0.8" fill="#707070"/><circle cx="962.10" cy="983.10" r="0.8" fill="#707070"/><circle cx="964.32" cy="983.45" r="0.8" fill="#707070"/><circle cx="966.33" cy="984.48" r="0.8" fill="#707070"/><circle cx="967.92" cy="986.07" r="0.8" fill="#707070"/><circle cx="968.95" cy="988.08" r="0.8" fill="#707070"/><circle cx="967.59" cy="991.39" r="0.75" fill="#707070"/><circle cx="966.76" cy="993.41" r="0.75" fill="#707070"/><circle cx="965.21" cy="994.96" r="0.75" fill="#707070"/><circle cx="963.19" cy="995.79" r="0.75" fill="#707070"/><circle cx="961.01" cy="995.79" r="0.75" fill="#707070"/><circle cx="958.99" cy="994.96" r="0.75" fill="#707070"/><circle cx="957.44" cy="993.41" r="0.75" fill="#707070"/><circle cx="956.61" cy="991.39" r="0.75" fill="#707070"/><circle cx="956.61" cy="989.21" r="0.75" fill="#707070"/><circle cx="957.44" cy="987.19" r="0.75" fill="#707070"/><circle cx="958.99" cy="985.64" r="0.75" fill="#707070"/><circle cx="961.01" cy="984.81" r="0.75" fill="#707070"/><circle cx="963.19" cy="984.81" r="0.75" fill="#707070"/><circle cx="965.21" cy="985.64" r="0.75" fill="#707070"/><circle cx="966.76" cy="987.19" r="0.75" fill="#707070"/><circle cx="967.59" cy="989.21" r="0.75" fill="#707070"/><circle cx="966.20" cy="990.30" r="0.65" fill="#707070"/><circle cx="965.65" cy="992.35" r="0.65" fill="#707070"/><circle cx="964.15" cy="993.85" r="0.65" fill="#707070"/><circle cx="962.10" cy="994.40" r="0.65" fill="#707070"/><circle cx="960.05" cy="993.85" r="0.65" fill="#707070"/><circle cx="958.55" cy="992.35" r="0.65" fill="#707070"/><circle cx="958.00" cy="990.30" r="0.65" fill="#707070"/><circle cx="958.55" cy="988.25" r="0.65" fill="#707070"/><circle cx="960.05" cy="986.75" r="0.65" fill="#707070"/><circle cx="962.10" cy="986.20" r="0.65" fill="#707070"/><circle cx="964.15" cy="986.75" r="0.65" fill="#707070"/><circle cx="965.65" cy="988.25" r="0.65" fill="#707070"/>
<g id="texts">
<text x="1.00" y="61.20" font-size="40.20" font-weight="700" text-anchor="start" fill="#231f20" textLength="592.00" lengthAdjust="spacingAndGlyphs" stroke="#231f20" stroke-width="1.0">European unemployment rates</text>
<text x="1.10" y="131.40" font-size="23.30" font-weight="700" text-anchor="start" fill="#231f20" textLength="248.80" lengthAdjust="spacingAndGlyphs" stroke="#231f20" stroke-width="0.5">UNEMPLOYMENT RATE</text>
<text x="276.20" y="131.60" font-size="20.68" font-weight="400" text-anchor="start" fill="#231f20" textLength="360.20" lengthAdjust="spacingAndGlyphs" >SEASONALLY-ADJUSTED, August 2013 (%)</text>
<text x="110.30" y="203.70" font-size="20.10" font-weight="400" text-anchor="end" fill="#231f20" textLength="60.42" lengthAdjust="spacingAndGlyphs" >Greece</text>
<text x="401.28" y="203.40" font-size="20.00" font-weight="700" text-anchor="start" fill="#231f20" textLength="58.77" lengthAdjust="spacingAndGlyphs" stroke="#231f20" stroke-width="0.35">27.9**</text>
<text x="110.30" y="229.92" font-size="20.10" font-weight="400" text-anchor="end" fill="#231f20" textLength="49.83" lengthAdjust="spacingAndGlyphs" >Spain</text>
<text x="384.35" y="229.62" font-size="20.00" font-weight="700" text-anchor="start" fill="#231f20" textLength="39.58" lengthAdjust="spacingAndGlyphs" stroke="#231f20" stroke-width="0.35">26.2</text>
<text x="110.30" y="256.14" font-size="20.10" font-weight="400" text-anchor="end" fill="#231f20" textLength="60.69" lengthAdjust="spacingAndGlyphs" >Cyprus</text>
<text x="290.42" y="255.84" font-size="20.00" font-weight="700" text-anchor="start" fill="#231f20" textLength="39.58" lengthAdjust="spacingAndGlyphs" stroke="#231f20" stroke-width="0.35">16.9</text>
<text x="110.30" y="282.36" font-size="20.10" font-weight="400" text-anchor="end" fill="#231f20" textLength="63.31" lengthAdjust="spacingAndGlyphs" >Croatia</text>
<text x="290.42" y="282.06" font-size="20.00" font-weight="700" text-anchor="start" fill="#231f20" textLength="39.58" lengthAdjust="spacingAndGlyphs" stroke="#231f20" stroke-width="0.35">16.9</text>
<text x="110.30" y="308.58" font-size="20.10" font-weight="400" text-anchor="end" fill="#231f20" textLength="74.77" lengthAdjust="spacingAndGlyphs" >Portugal</text>
<text x="286.44" y="308.28" font-size="20.00" font-weight="700" text-anchor="start" fill="#231f20" textLength="39.58" lengthAdjust="spacingAndGlyphs" stroke="#231f20" stroke-width="0.35">16.5</text>
<text x="110.30" y="334.80" font-size="20.10" font-weight="400" text-anchor="end" fill="#231f20" textLength="74.00" lengthAdjust="spacingAndGlyphs" >Slovakia</text>
<text x="261.54" y="334.50" font-size="20.00" font-weight="700" text-anchor="start" fill="#231f20" textLength="22.19" lengthAdjust="spacingAndGlyphs" stroke="#231f20" stroke-width="0.35">14</text>
<text x="110.30" y="361.02" font-size="20.10" font-weight="400" text-anchor="end" fill="#231f20" textLength="62.11" lengthAdjust="spacingAndGlyphs" >Ireland</text>
<text x="257.56" y="360.72" font-size="20.00" font-weight="700" text-anchor="start" fill="#231f20" textLength="39.58" lengthAdjust="spacingAndGlyphs" stroke="#231f20" stroke-width="0.35">13.6</text>
<text x="110.30" y="387.24" font-size="20.10" font-weight="400" text-anchor="end" fill="#231f20" textLength="73.00" lengthAdjust="spacingAndGlyphs" >Bulgaria</text>
<text x="251.58" y="386.94" font-size="20.00" font-weight="700" text-anchor="start" fill="#231f20" textLength="22.19" lengthAdjust="spacingAndGlyphs" stroke="#231f20" stroke-width="0.35">13</text>
<text x="110.30" y="413.46" font-size="20.10" font-weight="400" text-anchor="end" fill="#231f20" textLength="83.14" lengthAdjust="spacingAndGlyphs" >Lithuania</text>
<text x="244.61" y="413.16" font-size="20.00" font-weight="700" text-anchor="start" fill="#231f20" textLength="39.58" lengthAdjust="spacingAndGlyphs" stroke="#231f20" stroke-width="0.35">12.3</text>
<text x="110.30" y="439.68" font-size="20.10" font-weight="400" text-anchor="end" fill="#231f20" textLength="37.92" lengthAdjust="spacingAndGlyphs" >Italy</text>
<text x="243.61" y="439.38" font-size="20.00" font-weight="700" text-anchor="start" fill="#231f20" textLength="39.58" lengthAdjust="spacingAndGlyphs" stroke="#231f20" stroke-width="0.35">12.2</text>
<text x="110.30" y="465.90" font-size="20.10" font-weight="400" text-anchor="end" fill="#231f20" textLength="53.17" lengthAdjust="spacingAndGlyphs" >Latvia</text>
<text x="235.64" y="465.60" font-size="20.00" font-weight="700" text-anchor="start" fill="#231f20" textLength="58.77" lengthAdjust="spacingAndGlyphs" stroke="#231f20" stroke-width="0.35">11.4**</text>
<text x="110.30" y="492.12" font-size="20.10" font-weight="400" text-anchor="end" fill="#231f20" textLength="58.38" lengthAdjust="spacingAndGlyphs" >France</text>
<text x="231.66" y="491.82" font-size="20.00" font-weight="700" text-anchor="start" fill="#231f20" textLength="22.19" lengthAdjust="spacingAndGlyphs" stroke="#231f20" stroke-width="0.35">11</text>
<text x="110.30" y="518.34" font-size="20.10" font-weight="400" text-anchor="end" fill="#231f20" textLength="75.27" lengthAdjust="spacingAndGlyphs" >Slovenia</text>
<text x="225.68" y="518.04" font-size="20.00" font-weight="700" text-anchor="start" fill="#231f20" textLength="39.58" lengthAdjust="spacingAndGlyphs" stroke="#231f20" stroke-width="0.35">10.4</text>
<text x="110.30" y="544.56" font-size="20.10" font-weight="400" text-anchor="end" fill="#231f20" textLength="61.86" lengthAdjust="spacingAndGlyphs" >Poland</text>
<text x="224.69" y="544.26" font-size="20.00" font-weight="700" text-anchor="start" fill="#231f20" textLength="39.58" lengthAdjust="spacingAndGlyphs" stroke="#231f20" stroke-width="0.35">10.3</text>
<text x="110.30" y="570.78" font-size="20.10" font-weight="400" text-anchor="end" fill="#231f20" textLength="75.06" lengthAdjust="spacingAndGlyphs" >Hungary</text>
<text x="223.69" y="570.48" font-size="20.00" font-weight="700" text-anchor="start" fill="#231f20" textLength="49.17" lengthAdjust="spacingAndGlyphs" stroke="#231f20" stroke-width="0.35">10.2*</text>
<text x="110.30" y="597.00" font-size="20.10" font-weight="400" text-anchor="end" fill="#231f20" textLength="72.70" lengthAdjust="spacingAndGlyphs" >Belgium</text>
<text x="209.35" y="596.70" font-size="20.00" font-weight="700" text-anchor="start" fill="#231f20" textLength="28.48" lengthAdjust="spacingAndGlyphs" stroke="#231f20" stroke-width="0.35">8.7</text>
<text x="110.30" y="623.22" font-size="20.10" font-weight="400" text-anchor="end" fill="#231f20" textLength="66.11" lengthAdjust="spacingAndGlyphs" >Finland</text>
<text x="202.38" y="622.92" font-size="20.00" font-weight="700" text-anchor="start" fill="#231f20" textLength="11.09" lengthAdjust="spacingAndGlyphs" stroke="#231f20" stroke-width="0.35">8</text>
<text x="110.30" y="649.44" font-size="20.10" font-weight="400" text-anchor="end" fill="#231f20" textLength="70.22" lengthAdjust="spacingAndGlyphs" >Sweden</text>
<text x="202.38" y="649.14" font-size="20.00" font-weight="700" text-anchor="start" fill="#231f20" textLength="11.09" lengthAdjust="spacingAndGlyphs" stroke="#231f20" stroke-width="0.35">8</text>
<text x="110.30" y="675.66" font-size="20.10" font-weight="400" text-anchor="end" fill="#231f20" textLength="64.89" lengthAdjust="spacingAndGlyphs" >Estonia</text>
<text x="201.08" y="675.36" font-size="20.00" font-weight="700" text-anchor="start" fill="#231f20" textLength="38.08" lengthAdjust="spacingAndGlyphs" stroke="#231f20" stroke-width="0.35">7.9*</text>
<text x="110.30" y="701.88" font-size="20.10" font-weight="400" text-anchor="end" fill="#231f20" textLength="35.83" lengthAdjust="spacingAndGlyphs" >U.K.</text>
<text x="199.09" y="701.58" font-size="20.00" font-weight="700" text-anchor="start" fill="#231f20" textLength="47.67" lengthAdjust="spacingAndGlyphs" stroke="#231f20" stroke-width="0.35">7.7**</text>
<text x="110.30" y="728.10" font-size="20.10" font-weight="400" text-anchor="end" fill="#231f20" textLength="78.36" lengthAdjust="spacingAndGlyphs" >Romania</text>
<text x="197.10" y="727.80" font-size="20.00" font-weight="700" text-anchor="start" fill="#231f20" textLength="28.48" lengthAdjust="spacingAndGlyphs" stroke="#231f20" stroke-width="0.35">7.5</text>
<text x="110.30" y="754.32" font-size="20.10" font-weight="400" text-anchor="end" fill="#231f20" textLength="107.91" lengthAdjust="spacingAndGlyphs" >Netherlands</text>
<text x="192.12" y="754.02" font-size="20.00" font-weight="700" text-anchor="start" fill="#231f20" textLength="11.09" lengthAdjust="spacingAndGlyphs" stroke="#231f20" stroke-width="0.35">7</text>
<text x="110.30" y="780.54" font-size="20.10" font-weight="400" text-anchor="end" fill="#231f20" textLength="95.16" lengthAdjust="spacingAndGlyphs" >Czech Rep.</text>
<text x="192.12" y="780.24" font-size="20.00" font-weight="700" text-anchor="start" fill="#231f20" textLength="28.48" lengthAdjust="spacingAndGlyphs" stroke="#231f20" stroke-width="0.35">6.9</text>
<text x="110.30" y="806.76" font-size="20.10" font-weight="400" text-anchor="end" fill="#231f20" textLength="80.50" lengthAdjust="spacingAndGlyphs" >Denmark</text>
<text x="189.14" y="806.46" font-size="20.00" font-weight="700" text-anchor="start" fill="#231f20" textLength="28.48" lengthAdjust="spacingAndGlyphs" stroke="#231f20" stroke-width="0.35">6.6</text>
<text x="110.30" y="832.98" font-size="20.10" font-weight="400" text-anchor="end" fill="#231f20" textLength="48.45" lengthAdjust="spacingAndGlyphs" >Malta</text>
<text x="187.14" y="832.68" font-size="20.00" font-weight="700" text-anchor="start" fill="#231f20" textLength="28.48" lengthAdjust="spacingAndGlyphs" stroke="#231f20" stroke-width="0.35">6.4</text>
<text x="110.30" y="859.20" font-size="20.10" font-weight="400" text-anchor="end" fill="#231f20" textLength="110.33" lengthAdjust="spacingAndGlyphs" >Luxembourg</text>
<text x="181.17" y="858.90" font-size="20.00" font-weight="700" text-anchor="start" fill="#231f20" textLength="28.48" lengthAdjust="spacingAndGlyphs" stroke="#231f20" stroke-width="0.35">5.8</text>
<text x="110.30" y="885.42" font-size="20.10" font-weight="400" text-anchor="end" fill="#231f20" textLength="79.95" lengthAdjust="spacingAndGlyphs" >Germany</text>
<text x="175.19" y="885.12" font-size="20.00" font-weight="700" text-anchor="start" fill="#231f20" textLength="28.48" lengthAdjust="spacingAndGlyphs" stroke="#231f20" stroke-width="0.35">5.2</text>
<text x="110.30" y="911.64" font-size="20.10" font-weight="400" text-anchor="end" fill="#231f20" textLength="61.22" lengthAdjust="spacingAndGlyphs" >Austria</text>
<text x="172.20" y="911.34" font-size="20.00" font-weight="700" text-anchor="start" fill="#231f20" textLength="28.48" lengthAdjust="spacingAndGlyphs" stroke="#231f20" stroke-width="0.35">4.9</text>
<text x="136.60" y="168.40" font-size="19.74" font-weight="400" text-anchor="start" fill="#231f20" textLength="82.50" lengthAdjust="spacingAndGlyphs" >Euro area</text>
<text x="224.20" y="168.40" font-size="20.00" font-weight="700" text-anchor="start" fill="#231f20" textLength="22.00" lengthAdjust="spacingAndGlyphs" stroke="#231f20" stroke-width="0.35">12</text>
<text x="0.50" y="954.70" font-size="13.90" font-weight="400" text-anchor="start" fill="#231f20" textLength="40.60" lengthAdjust="spacingAndGlyphs" >* July</text>
<text x="62.60" y="954.70" font-size="13.90" font-weight="400" text-anchor="start" fill="#231f20" textLength="54.20" lengthAdjust="spacingAndGlyphs" >** June</text>
<text x="0.00" y="993.80" font-size="15.98" font-weight="400" text-anchor="start" fill="#231f20" textLength="121.60" lengthAdjust="spacingAndGlyphs" >Source: Eurostat</text>
<text x="0.00" y="1021.00" font-size="13.63" font-weight="400" text-anchor="start" fill="#231f20" textLength="110.80" lengthAdjust="spacingAndGlyphs" >W. Foo, 02/10/2013</text>
<text x="725.55" y="252.60" font-size="19.70" font-weight="400" text-anchor="start" fill="#231f20" textLength="69.35" lengthAdjust="spacingAndGlyphs" stroke="#231f20" stroke-width="0.45">Sweden</text>
<text x="829.80" y="327.10" font-size="19.70" font-weight="400" text-anchor="start" fill="#231f20" textLength="64.90" lengthAdjust="spacingAndGlyphs" stroke="#231f20" stroke-width="0.45">Finland</text>
<text x="949.80" y="437.30" font-size="19.70" font-weight="400" text-anchor="start" fill="#231f20" textLength="64.10" lengthAdjust="spacingAndGlyphs" stroke="#231f20" stroke-width="0.45">Estonia</text>
<text x="961.30" y="466.00" font-size="19.70" font-weight="400" text-anchor="start" fill="#231f20" textLength="52.80" lengthAdjust="spacingAndGlyphs" stroke="#231f20" stroke-width="0.45">Latvia</text>
<text x="932.30" y="494.60" font-size="19.70" font-weight="400" text-anchor="start" fill="#231f20" textLength="81.60" lengthAdjust="spacingAndGlyphs" stroke="#231f20" stroke-width="0.45">Lithuania</text>
<text x="590.20" y="463.60" font-size="19.70" font-weight="400" text-anchor="start" fill="#231f20" textLength="80.00" lengthAdjust="spacingAndGlyphs" stroke="#231f20" stroke-width="0.45">Denmark</text>
<text x="460.55" y="463.00" font-size="19.70" font-weight="400" text-anchor="start" fill="#231f20" textLength="35.15" lengthAdjust="spacingAndGlyphs" stroke="#231f20" stroke-width="0.45">U.K.</text>
<text x="524.30" y="495.00" font-size="19.70" font-weight="400" text-anchor="start" fill="#231f20" textLength="106.40" lengthAdjust="spacingAndGlyphs" stroke="#231f20" stroke-width="0.45">Netherlands</text>
<text x="533.05" y="524.00" font-size="19.70" font-weight="400" text-anchor="start" fill="#231f20" textLength="71.40" lengthAdjust="spacingAndGlyphs" stroke="#231f20" stroke-width="0.45">Belgium</text>
<text x="629.30" y="563.00" font-size="19.70" font-weight="400" text-anchor="start" fill="#231f20" textLength="78.90" lengthAdjust="spacingAndGlyphs" stroke="#231f20" stroke-width="0.45">Germany</text>
<text x="745.20" y="551.90" font-size="19.70" font-weight="400" text-anchor="start" fill="#231f20" textLength="60.70" lengthAdjust="spacingAndGlyphs" stroke="#231f20" stroke-width="0.45">Poland</text>
<text x="920.30" y="569.70" font-size="19.70" font-weight="400" text-anchor="start" fill="#231f20" textLength="93.60" lengthAdjust="spacingAndGlyphs" stroke="#231f20" stroke-width="0.45">Czech Rep.</text>
<text x="953.90" y="601.90" font-size="19.70" font-weight="400" text-anchor="start" fill="#231f20" textLength="60.00" lengthAdjust="spacingAndGlyphs" stroke="#231f20" stroke-width="0.45">Austria</text>
<text x="940.60" y="634.00" font-size="19.70" font-weight="400" text-anchor="start" fill="#231f20" textLength="73.30" lengthAdjust="spacingAndGlyphs" stroke="#231f20" stroke-width="0.45">Slovakia</text>
<text x="940.60" y="666.90" font-size="19.70" font-weight="400" text-anchor="start" fill="#231f20" textLength="74.10" lengthAdjust="spacingAndGlyphs" stroke="#231f20" stroke-width="0.45">Hungary</text>
<text x="936.70" y="699.70" font-size="19.70" font-weight="400" text-anchor="start" fill="#231f20" textLength="77.20" lengthAdjust="spacingAndGlyphs" stroke="#231f20" stroke-width="0.45">Romania</text>
<text x="942.30" y="732.30" font-size="19.70" font-weight="400" text-anchor="start" fill="#231f20" textLength="71.40" lengthAdjust="spacingAndGlyphs" stroke="#231f20" stroke-width="0.45">Bulgaria</text>
<text x="378.30" y="597.80" font-size="19.70" font-weight="400" text-anchor="start" fill="#231f20" textLength="61.30" lengthAdjust="spacingAndGlyphs" stroke="#231f20" stroke-width="0.45">Ireland</text>
<text x="376.00" y="670.30" font-size="19.70" font-weight="400" text-anchor="start" fill="#231f20" textLength="109.70" lengthAdjust="spacingAndGlyphs" stroke="#231f20" stroke-width="0.45">Luxembourg</text>
<text x="535.55" y="705.50" font-size="19.70" font-weight="400" text-anchor="start" fill="#231f20" textLength="58.15" lengthAdjust="spacingAndGlyphs" stroke="#231f20" stroke-width="0.45">France</text>
<text x="745.80" y="719.30" font-size="19.70" font-weight="400" text-anchor="start" fill="#231f20" textLength="63.65" lengthAdjust="spacingAndGlyphs" stroke="#231f20" stroke-width="0.45">Croatia</text>
<text x="375.55" y="710.30" font-size="19.70" font-weight="400" text-anchor="start" fill="#231f20" textLength="73.90" lengthAdjust="spacingAndGlyphs" stroke="#231f20" stroke-width="0.45">Portugal</text>
<text x="463.05" y="785.30" font-size="19.70" font-weight="400" text-anchor="start" fill="#ffffff" textLength="48.90" lengthAdjust="spacingAndGlyphs" stroke="#ffffff" stroke-width="0.45">Spain</text>
<text x="741.70" y="764.40" font-size="19.70" font-weight="400" text-anchor="start" fill="#231f20" textLength="74.40" lengthAdjust="spacingAndGlyphs" stroke="#231f20" stroke-width="0.45">Slovenia</text>
<text x="685.55" y="806.20" font-size="19.70" font-weight="400" text-anchor="start" fill="#231f20" textLength="37.65" lengthAdjust="spacingAndGlyphs" stroke="#231f20" stroke-width="0.45">Italy</text>
<text x="725.30" y="868.40" font-size="19.70" font-weight="400" text-anchor="start" fill="#231f20" textLength="48.20" lengthAdjust="spacingAndGlyphs" stroke="#231f20" stroke-width="0.45">Malta</text>
<text x="817.00" y="890.00" font-size="19.70" font-weight="400" text-anchor="start" fill="#231f20" textLength="59.70" lengthAdjust="spacingAndGlyphs" stroke="#231f20" stroke-width="0.45">Greece</text>
<text x="914.80" y="892.50" font-size="19.70" font-weight="400" text-anchor="start" fill="#231f20" textLength="59.90" lengthAdjust="spacingAndGlyphs" stroke="#231f20" stroke-width="0.45">Cyprus</text>
<text x="450.30" y="905.80" font-size="17.90" font-weight="400" text-anchor="start" fill="#231f20" textLength="208.40" lengthAdjust="spacingAndGlyphs" >Unemployment rate (%)</text>
<text x="493.30" y="960.90" font-size="18.80" font-weight="400" text-anchor="middle" fill="#231f20" textLength="9.95" lengthAdjust="spacingAndGlyphs" >5</text>
<text x="534.30" y="960.90" font-size="18.80" font-weight="400" text-anchor="middle" fill="#231f20" textLength="19.89" lengthAdjust="spacingAndGlyphs" >10</text>
<text x="575.20" y="960.90" font-size="18.80" font-weight="400" text-anchor="middle" fill="#231f20" textLength="19.89" lengthAdjust="spacingAndGlyphs" >15</text>
<text x="616.10" y="960.90" font-size="18.80" font-weight="400" text-anchor="middle" fill="#231f20" textLength="19.89" lengthAdjust="spacingAndGlyphs" >20</text>
<text x="974.00" y="994.10" font-size="10.60" font-weight="700" text-anchor="start" fill="#3a3a3a" textLength="50.50" lengthAdjust="spacingAndGlyphs" >REUTERS</text>
</g>
</svg>
</body></html>
